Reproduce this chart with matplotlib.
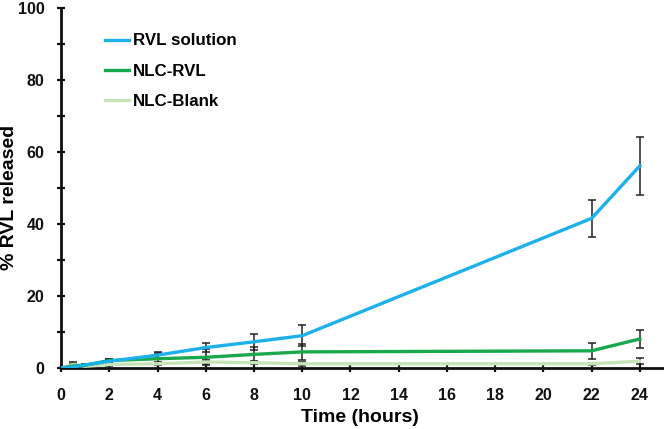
import matplotlib
matplotlib.use("Agg")
import matplotlib.pyplot as plt
import numpy as np

plt.rcParams['font.family'] = ['Liberation Sans', 'DejaVu Sans']
plt.rcParams['font.weight'] = 'bold'

time_h = [0, 0.5, 1, 2, 4, 6, 8, 10, 22, 24]
rvl_solution = [0, 0.3, 0.9, 1.9, 3.6, 5.7, 7.3, 9.0, 41.6, 56.2]
rvl_solution_err = [0, 0.3, 0.3, 0.5, 0.9, 1.2, 2.3, 3.0, 5.1, 8.0]
nlc_rvl = [0, 0.6, 0.8, 2.1, 2.6, 3.0, 3.8, 4.5, 4.8, 8.1]
nlc_rvl_err = [0, 0.4, 0.3, 0.4, 1.5, 2.2, 2.1, 2.3, 2.2, 2.6]
nlc_blank = [0, 1.0, 0.5, 1.0, 1.2, 1.7, 1.5, 1.2, 1.2, 1.9]
nlc_blank_err = [0, 0.6, 0.3, 0.5, 0.4, 0.6, 0.5, 0.5, 0.3, 0.8]

series = [
    ("RVL solution", rvl_solution, rvl_solution_err, "#1cb1ec"),
    ("NLC-RVL", nlc_rvl, nlc_rvl_err, "#19a84b"),
    ("NLC-Blank", nlc_blank, nlc_blank_err, "#c6e4b8"),
]

fig = plt.figure(figsize=(6.64, 4.29), dpi=100)
ax = fig.add_axes([0.092, 0.142, 0.908, 0.839])

for name, y, e, c in reversed(series):
    ax.errorbar(time_h, y, yerr=e, fmt='none', ecolor='#222222', elinewidth=1.1,
                capsize=3, capthick=1.1, zorder=2)
for name, y, e, c in reversed(series):
    ax.plot(time_h, y, color=c, lw=2.4, label=name, zorder=3)

ax.set_xlim(0, 25)
ax.set_ylim(0, 100)
ax.set_xticks(range(0, 25, 2))
ax.set_yticks(range(0, 101, 20))
ax.set_yticks(range(10, 100, 20), minor=True)
for s in ['top', 'right']:
    ax.spines[s].set_visible(False)
for s in ['left', 'bottom']:
    ax.spines[s].set_linewidth(2)
    ax.spines[s].set_color('#111111')
ax.tick_params(axis='both', which='both', direction='inout', width=1.6, length=6,
               labelsize=11.5, colors='#111111')
ax.tick_params(axis='x', pad=11)
ax.tick_params(axis='y', pad=9)
for lbl in ax.get_xticklabels() + ax.get_yticklabels():
    lbl.set_fontweight('bold')

ax.set_xlabel("Time (hours)", fontsize=14, fontweight='bold', va='top')
ax.xaxis.set_label_coords(0.496, -0.114)
ax.set_ylabel("% RVL released", fontsize=14, fontweight='bold', va='center')
ax.yaxis.set_label_coords(-0.086, 0.475)

handles, labels = ax.get_legend_handles_labels()
leg = ax.legend(handles[::-1], labels[::-1], loc='upper left', bbox_to_anchor=(0.048, 0.972),
                frameon=False, handlelength=1.42, handletextpad=0.2,
                labelspacing=0.89, prop={'weight': 'bold', 'size': 12.2})

fig.savefig("out.png", dpi=100)
